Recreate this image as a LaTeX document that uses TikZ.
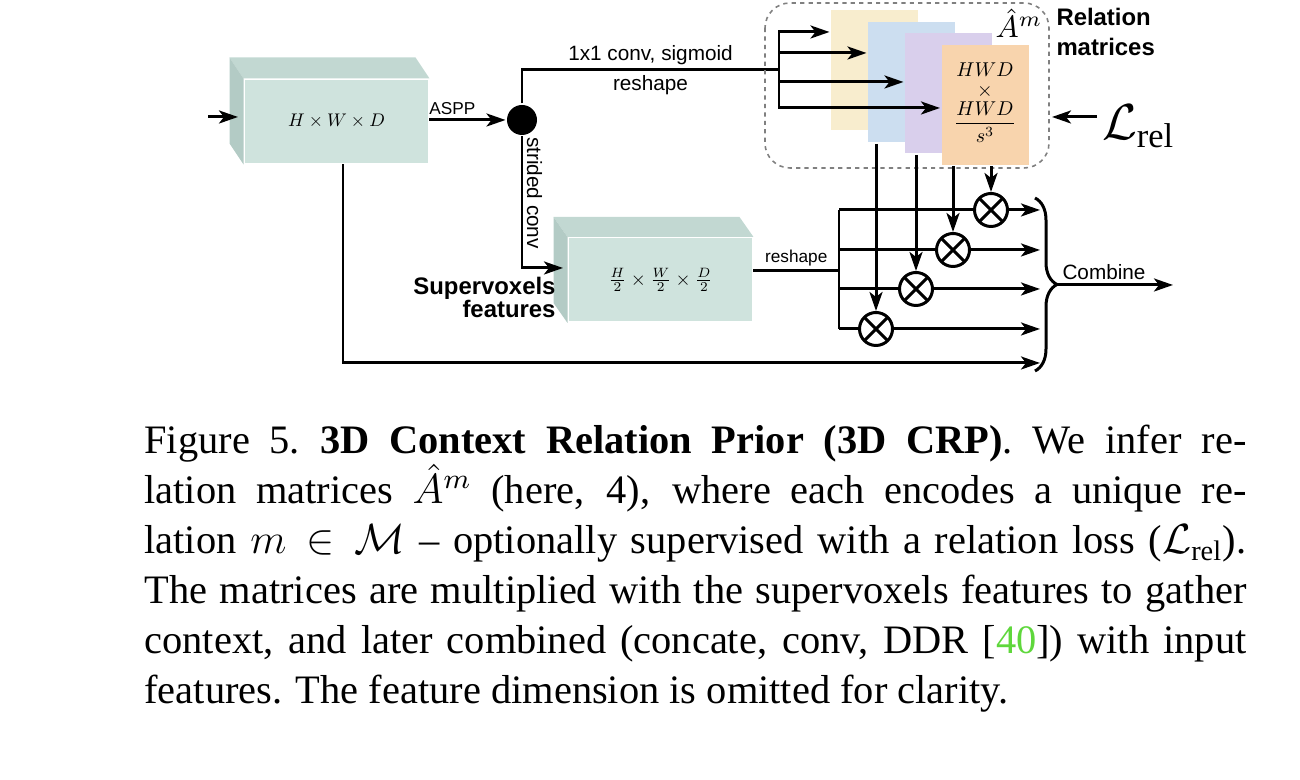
\documentclass[tikz,border=0pt]{standalone}
\usepackage{amsmath}
\usepackage{amssymb}
\usepackage{fontspec}
\setmainfont{Liberation Serif}
\setsansfont{Liberation Sans}
\usetikzlibrary{arrows.meta,decorations.pathreplacing}

\definecolor{boxfront}{RGB}{207,227,221}
\definecolor{boxtop}{RGB}{194,216,210}
\definecolor{boxside}{RGB}{179,203,197}
\definecolor{matA}{RGB}{248,237,206}
\definecolor{matB}{RGB}{204,222,240}
\definecolor{matC}{RGB}{217,207,236}
\definecolor{matD}{RGB}{248,212,173}
\definecolor{citegreen}{RGB}{95,215,60}

\tikzset{
  arr/.style={-{Stealth[length=1.9mm,width=1.3mm,inset=0.5mm]}},
  lbl/.style={font=\sffamily\fontsize{5.9}{7}\selectfont, inner sep=1pt},
  smalllbl/.style={font=\sffamily\fontsize{4.9}{6}\selectfont, inner sep=1pt},
  boldlbl/.style={font=\sffamily\bfseries\fontsize{6.8}{#1}\selectfont, inner sep=0pt},
  face/.style={fill=boxfront, minimum width=18.3mm, minimum height=8.3mm, inner sep=0pt},
  mat/.style={minimum width=8.7mm, minimum height=12mm, inner sep=0pt},
  dimtxt/.style={scale=0.57, inner sep=0pt},
  mult/.style={circle, draw, fill=white, minimum size=3.3mm, inner sep=0pt,
    path picture={\draw (path picture bounding box.north west) -- (path picture bounding box.south east)
      (path picture bounding box.north east) -- (path picture bounding box.south west);}},
  dot/.style={circle, fill=black, minimum size=3mm, inner sep=0pt},
}

\begin{document}
\begin{tikzpicture}[x=0.1mm, y=-0.1mm, line width=0.85pt]
\useasboundingbox (0,0) rectangle (1300,780);

% input block
\node[face] (full) at (336.5,121.5) {};
\fill[boxtop] (full.north west) -- ++(-14,-21) -- ([shift={(-14,-21)}]full.north east) -- (full.north east) -- cycle;
\fill[boxside] (full.north west) -- ++(-14,-21) -- ([shift={(-14,-21)}]full.south west) -- (full.south west) -- cycle;
\node[scale=0.52, inner sep=0pt] (fulltxt) at (full.center) {$H\times W\times D$};
\coordinate (in) at (208,117);
\coordinate (inend) at (238,117);
\draw[arr] (in) -- (inend);

% ASPP and split
\node[dot] (aspp) at (522,120) {};
\draw[arr] (full.east |- aspp) -- node[smalllbl, above, pos=0.3]{ASPP} (aspp);
\coordinate (split) at (779,70);
\draw (aspp) -- (aspp |- split) -- node[lbl, above]{1x1 conv, sigmoid} node[lbl, below]{reshape} (split);

% relation matrices
\draw[gray, line width=0.45pt, dash pattern=on 1.2pt off 1.2pt, rounded corners=2.5mm] (765,3) rectangle (1049,168);
\foreach \i/\col/\cx/\cy in {1/matA/874.5/70, 2/matB/911.5/82.5, 3/matC/948.5/93.5, 4/matD/985/105}
  \node[mat, fill=\col] (m\i) at (\cx,\cy) {};
\node[dimtxt] (hwd) at (985,70) {$HWD$};
\node[dimtxt] (cross) at (985,92) {$\times$};
\node[dimtxt] (hwds) at (985,122) {$\dfrac{HWD}{s^3}$};
\foreach \i/\y in {1/32,2/53,3/82,4/108}
  \draw[arr] (split) |- (m\i.west |- 0,\y);
\node[scale=0.88, anchor=base, inner sep=0pt] (ahat) at (1019,38) {$\hat{A}^m$};
\node[boldlbl=8.8pt, align=left, anchor=base west] (rel) at (1055,56) {Relation\\matrices};
\node[font=\fontsize{14}{16}\selectfont, anchor=base west, inner sep=1pt] (lrel) at (1097,140) {$\mathcal{L}_{\mathrm{rel}}$};
\coordinate (lt) at (1052,117);
\draw[arr] (lrel.west |- lt) -- (lt);

% supervoxels
\node[face] (half) at (660.5,280) {};
\fill[boxtop] (half.north west) -- ++(-14,-20) -- ([shift={(-14,-20)}]half.north east) -- (half.north east) -- cycle;
\fill[boxside] (half.north west) -- ++(-14,-20) -- ([shift={(-14,-20)}]half.south west) -- (half.south west) -- cycle;
\node[scale=0.55, inner sep=0pt] (halftxt) at (half.center) {$\frac{H}{2}\times\frac{W}{2}\times\frac{D}{2}$};
\coordinate (sv) at (563,268);
\draw[arr] (aspp) -- node[lbl, rotate=-90, anchor=south, pos=0.43]{strided conv} (aspp |- sv) -- (sv);
\node[boldlbl=6.6pt, align=right, anchor=base east] (svlbl) at (557,318) {Supervoxels\\features};

% products
\foreach \i/\cx/\cy in {1/876/329, 2/916/289, 3/953/250, 4/991/210}
  \node[mult] (o\i) at (\cx,\cy) {};
\draw[arr] (o1 |- m2.south) -- (o1);
\draw[arr] (o2 |- m3.south) -- (o2);
\draw[arr] (o3 |- m4.south) -- (o3);
\draw[arr] (o4 |- m4.south) -- (o4);
\coordinate (fan) at (839,271);
\coordinate (brc) at (1040,363);
\draw (half.east |- fan) -- node[smalllbl, above]{reshape} (fan);
\draw (fan |- o4) -- (fan |- o1);
\foreach \i in {1,...,4} {
  \draw (fan |- o\i) -- (o\i);
  \draw[arr] (o\i) -- (brc |- o\i);
}
\draw[arr] ([xshift=0.65mm]full.south) |- (brc);

% combine
\coordinate (bt) at (1035,198);
\coordinate (bb) at (1035,371);
\draw[decorate, decoration={brace, amplitude=2.2mm}] (bt) -- (bb);
\coordinate (bmid) at (1058,285);
\coordinate (out) at (1173,285);
\draw[arr] (bmid) -- node[lbl, above, pos=0.4]{Combine} (out);

% caption
\node[anchor=base west, text width=110.2mm, align=justify, inner sep=0pt, font=\fontsize{11.5}{14.2}\selectfont] (cap) at (143,454)
{Figure 5.\hspace{0.5em}\textbf{3D Context Relation Prior (3D CRP)}. We infer re-\linebreak
lation matrices $\hat{A}^m$ (here, 4), where each encodes a unique re-\linebreak
lation $m \in \mathcal{M}$ -- optionally supervised with a relation loss ($\mathcal{L}_{\mathrm{rel}}$).\linebreak
The matrices are multiplied with the supervoxels features to gather\linebreak
context, and later combined (concate, conv, DDR [\textcolor{citegreen}{40}]) with input\linebreak
features. The feature dimension is omitted for clarity.};
\end{tikzpicture}
\end{document}
